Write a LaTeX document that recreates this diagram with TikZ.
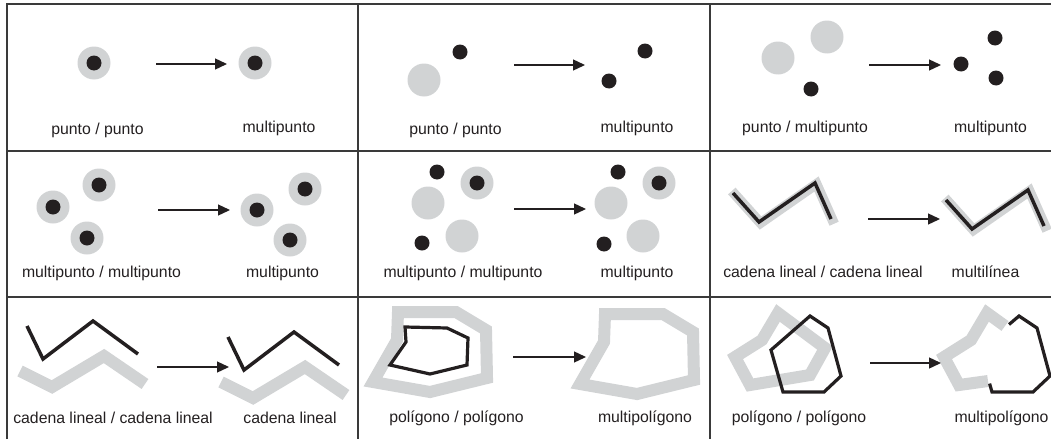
\documentclass[tikz,border=0pt]{standalone}
\usepackage{fontspec}
\setmainfont{Liberation Sans}
\usetikzlibrary{arrows.meta}
\definecolor{lg}{HTML}{D1D3D4}
\definecolor{ink}{HTML}{231F20}
\definecolor{rulec}{HTML}{3A3A3A}
\newcommand\myring[1]{\fill[lg] #1 circle[radius=16.5pt]; \fill[ink] #1 circle[radius=7.5pt];}
\newcommand\mygdisc[1]{\fill[lg] #1 circle[radius=16.5pt];}
\newcommand\mybdot[1]{\fill[ink] #1 circle[radius=7.5pt];}
\begin{document}
\begin{tikzpicture}[x=1pt,y=-1pt,
  gridline/.style={draw=rulec,line width=1.8pt},
  lbl/.style={font=\fontsize{15.8}{18}\selectfont,text=ink,anchor=base,inner sep=0pt},
  conn/.style={draw=ink,line width=1.3pt,-{Triangle[length=12pt,width=11pt]}},
  gband/.style={draw=lg,line width=12pt,miter limit=10},
  gthin/.style={draw=lg,line width=10pt},
  bline/.style={draw=ink,line width=3.5pt},
  bpoly/.style={draw=ink,line width=3.2pt}]
\useasboundingbox (0,0) rectangle (1051,439);

% grid
\draw[gridline] (7,439) -- (7,4) -- (1051,4);
\draw[gridline] (7,151) -- (1051,151);
\draw[gridline] (7,297) -- (1051,297);
\draw[gridline] (358,4) -- (358,439);
\draw[gridline] (710,4) -- (710,439);

% ---------- row 1 ----------
% cell 1,1
\myring{(94,63)}
\myring{(255,63)}
\coordinate (a11s) at (156,64); \coordinate (a11e) at (227,64);
\draw[conn] (a11s) -- (a11e);
\node[lbl] (t11a) at (97.5,134) {punto / punto};
\node[lbl] (t11b) at (279,132) {multipunto};

% cell 1,2
\mygdisc{(424,80)}
\mybdot{(460,52)}
\mybdot{(645,51)}
\mybdot{(609,81)}
\coordinate (a12s) at (514,65); \coordinate (a12e) at (585,65);
\draw[conn] (a12s) -- (a12e);
\node[lbl] (t12a) at (455.5,134) {punto / punto};
\node[lbl] (t12b) at (637,132) {multipunto};

% cell 1,3
\mygdisc{(778,58)}
\mygdisc{(827,37)}
\mybdot{(811,89)}
\mybdot{(995,38)}
\mybdot{(961,64)}
\mybdot{(996,78)}
\coordinate (a13s) at (869,65); \coordinate (a13e) at (941,65);
\draw[conn] (a13s) -- (a13e);
\node[lbl] (t13a) at (805,132) {punto / multipunto};
\node[lbl] (t13b) at (990.5,132) {multipunto};

% ---------- row 2 ----------
% cell 2,1
\myring{(53,207)}
\myring{(99,185)}
\myring{(87,238)}
\myring{(257,210)}
\myring{(305,189)}
\myring{(290,240)}
\coordinate (a21s) at (158,210); \coordinate (a21e) at (230,210);
\draw[conn] (a21s) -- (a21e);
\node[lbl] (t21a) at (101.5,277) {multipunto / multipunto};
\node[lbl] (t21b) at (282.5,277) {multipunto};

% cell 2,2
\mybdot{(437,172)}
\myring{(477,183)}
\mygdisc{(428,203)}
\mygdisc{(462,236)}
\mybdot{(422,243)}
\mybdot{(618,172)}
\myring{(659,183)}
\mygdisc{(611,203)}
\mygdisc{(643,236)}
\mybdot{(604,244)}
\coordinate (a22s) at (514,209); \coordinate (a22e) at (586,209);
\draw[conn] (a22s) -- (a22e);
\node[lbl] (t22a) at (463,277) {multipunto / multipunto};
\node[lbl] (t22b) at (637,277) {multipunto};

% cell 2,3
\begin{scope}[shift={(1.5,1)}]
\draw[gthin] (730.3,190) -- (759,222) -- (815,183) -- (832.6,222.7);
\end{scope}
\draw[bline] (733,193) -- (759,222) -- (815,183) -- (831,219);
\begin{scope}[shift={(213,7)}]
\begin{scope}[shift={(1.5,1)}]
\draw[gthin] (730.3,190) -- (759,222) -- (815,183) -- (832.6,222.7);
\end{scope}
\draw[bline] (733,193) -- (759,222) -- (815,183) -- (831,219);
\end{scope}
\coordinate (a23s) at (868,219); \coordinate (a23e) at (940,219);
\draw[conn] (a23s) -- (a23e);
\node[lbl] (t23a) at (823,277) {cadena lineal / cadena lineal};
\node[lbl] (t23b) at (985.5,277) {multilínea};

% ---------- row 3 ----------
% cell 3,1
\draw[gband] (20,371) -- (52,387) -- (104,356) -- (145,384);
\draw[bline] (27,326) -- (43,359) -- (93,321) -- (138,354);
\begin{scope}[shift={(201,11)}]
\draw[gband] (20,371) -- (52,387) -- (104,356) -- (145,384);
\draw[bline] (27,326) -- (43,359) -- (93,321) -- (138,354);
\end{scope}
\coordinate (a31s) at (157,367); \coordinate (a31e) at (229,367);
\draw[conn] (a31s) -- (a31e);
\node[lbl] (t31a) at (113,423) {cadena lineal / cadena lineal};
\node[lbl] (t31b) at (290,423) {cadena lineal};

% cell 3,2
\draw[gband] (398,312) -- (456,312) -- (486,330) -- (487,378) -- (430,392) -- (373,382) -- (397,340) -- cycle;
\draw[bpoly] (405,327) -- (447,328) -- (468,338) -- (467,365) -- (430,374) -- (390,365) -- (406,342) -- cycle;
\begin{scope}[shift={(207,2)}]
\draw[gband] (398,312) -- (456,312) -- (486,330) -- (487,378) -- (430,392) -- (373,382) -- (397,340) -- cycle;
\end{scope}
\coordinate (a32s) at (513,357); \coordinate (a32e) at (586,357);
\draw[conn] (a32s) -- (a32e);
\node[lbl] (t32a) at (456.5,422) {polígono / polígono};
\node[lbl] (t32b) at (645,422) {multipolígono};

% cell 3,3
\draw[gband] (778,313) -- (825,348) -- (810,375) -- (750,385) -- (735,357) -- (762,340) -- cycle;
\draw[bpoly] (810,316) -- (828,328) -- (841,376) -- (824,392) -- (783,392) -- (771,350) -- cycle;
\draw[gband] (1005,326) -- (987,313) -- (971,340) -- (944,357) -- (959,385) -- (988,381);
\draw[bpoly] (1009,324.5) -- (1019,316) -- (1037,328) -- (1050,376) -- (1033,392) -- (992,392) -- (989.6,383.6);
\coordinate (a33s) at (870,363); \coordinate (a33e) at (941,363);
\draw[conn] (a33s) -- (a33e);
\node[lbl] (t33a) at (799,422) {polígono / polígono};
\node[lbl] (t33b) at (1001.5,422) {multipolígono};
\end{tikzpicture}
\end{document}
